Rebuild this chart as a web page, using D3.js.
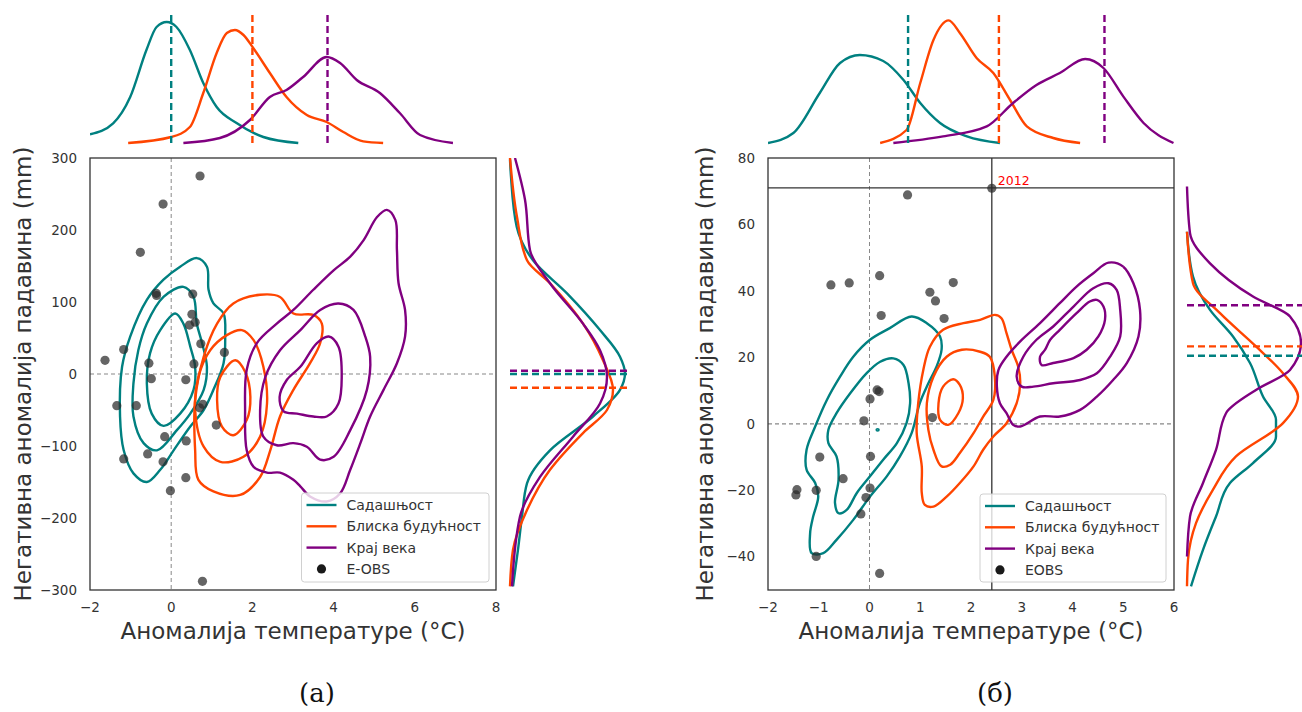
<!DOCTYPE html>
<html><head><meta charset="utf-8">
<script src="https://cdn.jsdelivr.net/npm/d3@7"></script>
<style>
html,body{margin:0;padding:0;background:#fff;}
svg{display:block;font-family:"DejaVu Sans",sans-serif;}
</style></head>
<body>
<svg id="chart" width="1302" height="712"></svg>
<script>
// ---------------- DATA ----------------
const seriesNames = ["Садашњост", "Блиска будућност", "Крај века"];
const seriesColors = ["#008080", "#ff4500", "#800080"];
const obsLabelA = "E-OBS";
const obsLabelB = "EOBS";
const panelLabels = ["(a)", "(б)"];
const xTitle = "Аномалија температуре (°C)";
const yTitle = "Негативна аномалија падавина (mm)";

const xDomainA = [-2, 8];
const yDomainA = [-300, 300];
const xTicksA = [-2, 0, 2, 4, 6, 8];
const yTicksA = [-300, -200, -100, 0, 100, 200, 300];
const xDomainB = [-2, 6];
const yDomainB = [-50, 80];
const xTicksB = [-2, -1, 0, 1, 2, 3, 4, 5, 6];
const yTicksB = [-40, -20, 0, 20, 40, 60, 80];

// KDE contour lines (outer, middle, inner) per period, panel (a)
const contTealA = [
 [[0.63,161],[0.88,149],[0.92,117],[1.04,98],[1.29,84],[1.33,52],[1.29,15],[1.04,-22],[0.80,-50],[0.47,-73],[0.06,-106],[-0.27,-133],[-0.60,-150],[-0.93,-138],[-1.17,-106],[-1.26,-59],[-1.21,10],[-1.01,52],[-0.60,103],[-0.19,131],[0.22,149]],
 [[0.30,121],[0.55,107],[0.63,70],[0.76,43],[0.88,10],[0.80,-22],[0.47,-55],[0.14,-78],[-0.35,-106],[-0.68,-96],[-0.93,-59],[-0.93,-13],[-0.81,33],[-0.60,70],[-0.19,107]],
 [[0.10,84],[0.30,70],[0.47,38],[0.59,10],[0.55,-22],[0.22,-55],[-0.19,-72],[-0.48,-55],[-0.60,-13],[-0.52,29],[-0.27,61]]
];
const contOrangeA = [
 [[2.19,110],[2.68,107],[3.01,84],[3.50,82],[3.71,70],[3.67,43],[3.42,15],[3.01,-22],[2.68,-59],[2.44,-106],[2.19,-143],[1.70,-168],[1.04,-163],[0.67,-147],[0.59,-106],[0.59,-36],[0.80,24],[1.13,70],[1.53,98]],
 [[1.74,61],[2.03,47],[2.27,10],[2.36,-41],[2.19,-87],[1.78,-115],[1.21,-122],[0.80,-101],[0.59,-50],[0.67,-4],[0.96,33],[1.37,54]],
 [[1.58,19],[1.82,3],[1.95,-32],[1.86,-64],[1.53,-85],[1.25,-73],[1.13,-36],[1.21,-4]]
];
const contPurpleA = [
 [[5.31,228],[5.52,214],[5.56,172],[5.60,126],[5.76,89],[5.76,52],[5.56,15],[5.23,-22],[4.90,-59],[4.66,-96],[4.41,-133],[4.16,-166],[3.83,-177],[3.42,-170],[3.18,-156],[3.01,-147],[2.68,-137],[2.36,-137],[2.03,-129],[1.86,-106],[1.82,-50],[1.86,6],[2.11,43],[2.60,70],[3.01,89],[3.50,117],[4.00,144],[4.41,163],[4.74,186],[5.07,218]],
 [[4.12,98],[4.49,89],[4.78,52],[4.90,24],[4.82,-22],[4.41,-78],[4.00,-115],[3.67,-119],[3.34,-101],[3.01,-96],[2.60,-99],[2.27,-87],[2.19,-50],[2.32,-4],[2.68,33],[3.18,61],[3.67,89]],
 [[3.88,52],[4.12,38],[4.20,-4],[4.12,-41],[3.83,-59],[3.50,-59],[3.10,-55],[2.77,-52],[2.67,-32],[2.85,-8],[3.18,10],[3.59,43]]
];
// panel (б)
const contTealB = [
 [[0.83,32.3],[1.13,30.3],[1.39,26.3],[1.42,22.3],[1.32,17.2],[1.16,12.2],[0.99,6.2],[0.83,-2.8],[0.60,-9.8],[0.34,-15.8],[0.01,-21.9],[-0.32,-28.9],[-0.65,-34.9],[-0.91,-38.9],[-1.14,-38.9],[-1.17,-32.9],[-1.11,-27.9],[-1.01,-21.9],[-1.07,-17.8],[-1.24,-13.8],[-1.24,-7.8],[-1.07,-0.8],[-0.84,7.2],[-0.58,14.2],[-0.32,20.2],[0.01,25.3],[0.40,28.8]],
 [[0.47,19.7],[0.67,17.7],[0.77,12.2],[0.80,6.2],[0.73,0.2],[0.54,-5.8],[0.27,-10.8],[0.01,-15.8],[-0.25,-20.8],[-0.45,-25.9],[-0.61,-26.9],[-0.68,-23.8],[-0.61,-16.8],[-0.65,-9.8],[-0.81,-5.8],[-0.81,-1.8],[-0.65,3.2],[-0.38,9.2],[-0.06,15.2],[0.21,18.7]],
 [[0.16,-1.6],[0.18,-1.8],[0.16,-2.0],[0.14,-1.8]]
];
const contOrangeB = [
 [[2.47,32.8],[2.60,31.8],[2.70,27.3],[2.80,22.3],[2.93,17.2],[2.97,12.2],[2.90,6.2],[2.70,0.2],[2.44,-3.8],[2.24,-7.8],[2.05,-12.8],[1.78,-17.8],[1.52,-21.9],[1.26,-24.9],[1.09,-24.4],[1.03,-20.8],[1.03,-12.8],[0.93,-2.8],[0.96,6.2],[1.06,16.2],[1.19,23.2],[1.45,28.3],[1.85,30.3],[2.18,31.3]],
 [[1.82,22.3],[2.18,21.7],[2.37,20.2],[2.47,14.2],[2.44,7.2],[2.24,2.2],[2.05,-2.8],[1.78,-8.8],[1.59,-12.3],[1.42,-12.8],[1.26,-7.8],[1.16,-1.8],[1.13,6.2],[1.26,14.2],[1.52,20.2]],
 [[1.65,13.4],[1.78,11.7],[1.84,7.7],[1.75,3.2],[1.55,-0.3],[1.39,1.2],[1.36,6.2],[1.45,11.2]]
];
const contPurpleB = [
 [[4.71,48.5],[5.00,47.3],[5.20,42.3],[5.33,34.3],[5.30,26.3],[5.07,18.3],[4.80,13.2],[4.48,8.2],[4.15,4.2],[3.75,2.2],[3.36,2.2],[2.97,-0.8],[2.83,-0.3],[2.70,3.2],[2.57,6.2],[2.51,11.2],[2.54,16.2],[2.70,20.2],[2.97,24.8],[3.36,30.3],[3.75,36.3],[4.08,41.3],[4.41,45.3]],
 [[4.71,42.3],[4.87,40.3],[4.94,34.3],[4.94,26.3],[4.74,20.2],[4.48,15.2],[4.15,13.2],[3.62,12.2],[3.23,11.2],[3.00,11.2],[2.90,14.2],[3.03,20.2],[3.29,25.3],[3.62,29.3],[4.02,35.3],[4.41,40.8]],
 [[4.48,37.3],[4.61,35.3],[4.64,31.3],[4.51,26.3],[4.28,22.3],[4.02,19.8],[3.62,18.3],[3.39,17.7],[3.36,20.2],[3.46,22.3],[3.56,25.3],[3.75,28.3],[4.08,33.3],[4.34,36.8]]
];

// observations
const obsXA = [0.71,-0.20,-0.76,-0.37,-0.36,0.53,0.51,0.59,0.45,0.73,1.31,-1.17,-1.63,-0.55,0.56,-0.49,0.36,-1.34,-0.86,0.70,0.78,1.11,-0.16,0.37,-1.17,-0.58,-0.20,0.36,-0.02,0.77];
const obsYA = [275,236,169,112,109,111,83,72,68,42,30,34,19,15,14,-6.5,-8,-44,-44,-47,-42,-71,-87,-93,-118,-111,-122,-144,-162,-288];
const obsXB = [2.41,0.75,-0.76,-0.40,0.20,1.65,1.19,1.30,0.23,1.47,0.15,0.19,0.01,-0.11,1.24,-0.98,0.02,-0.52,-1.43,-1.45,-1.05,0.01,-0.07,-0.17,-1.05,0.20];
const obsYB = [70.9,68.9,41.8,42.4,44.6,42.5,39.6,37.0,32.6,31.7,10.2,9.7,7.5,0.9,1.9,-10.0,-9.8,-16.5,-19.8,-21.4,-20.0,-19.3,-22.2,-27.1,-39.9,-45.0];
const highlightYear = "2012";
const highlightX = 2.41;
const highlightY = 71;

// period means (dashed lines)
const meanXA = [0.0, 2.0, 3.85];
const meanYA = [0, -19, 4.6];
const meanXB = [0.76, 2.55, 4.63];
const meanYB = [20.5, 23.3, 35.7];

// marginal densities (relative)
const topTealA = [[-2.0,0.087],[-1.43,0.197],[-1.01,0.46],[-0.61,0.93],[-0.36,1.16],[-0.11,1.21],[0.13,1.16],[0.46,0.93],[0.79,0.60],[1.12,0.36],[1.61,0.20],[2.27,0.06],[3.13,0]];
const topOrangeA = [[-1.06,0],[0.0,0.06],[0.46,0.16],[0.79,0.50],[1.12,0.90],[1.37,1.10],[1.57,1.13],[1.78,1.08],[2.02,0.95],[2.43,0.70],[2.84,0.46],[3.34,0.28],[3.83,0.21],[4.24,0.11],[4.73,0.016],[5.22,0]];
const topPurpleA = [[0.30,0],[1.20,0.05],[1.94,0.23],[2.43,0.46],[2.84,0.53],[3.25,0.66],[3.83,0.86],[4.16,0.80],[4.57,0.63],[5.14,0.50],[5.63,0.30],[6.13,0.08],[6.94,0]];
const topTealB = [[-2.0,0],[-1.5,0.10],[-0.98,0.50],[-0.58,0.80],[-0.19,0.88],[0.27,0.82],[0.67,0.63],[1.0,0.40],[1.39,0.20],[1.92,0.066],[2.57,0]];
const topOrangeB = [[0.21,0],[0.73,0.13],[1.0,0.60],[1.26,1.03],[1.56,1.226],[1.78,1.10],[2.11,0.85],[2.44,0.70],[2.77,0.43],[3.10,0.166],[3.62,0.05],[4.15,0]];
const topPurpleB = [[0.47,0],[1.45,0.066],[2.31,0.166],[2.83,0.40],[3.29,0.58],[3.75,0.70],[4.25,0.84],[4.61,0.75],[5.0,0.466],[5.40,0.20],[5.99,0]];
const rightTealA = [[298,0],[274,0.01],[204.6,0.067],[158,0.23],[112,0.57],[61,0.90],[24,1.10],[1,1.15],[-22,1.10],[-59,0.83],[-106,0.40],[-152,0.17],[-198,0.12],[-244,0.08],[-295,0.03]];
const rightOrangeA = [[300,0],[218,0.07],[158,0.17],[126,0.40],[70,0.73],[19,0.93],[-22,1.03],[-50,0.97],[-82,0.73],[-133,0.40],[-189,0.17],[-244,0.03],[-295,0]];
const rightPurpleA = [[300,0.05],[242,0.15],[172,0.20],[126,0.40],[70,0.73],[33,0.90],[-4,0.97],[-41,0.90],[-87,0.63],[-143,0.30],[-198,0.10],[-295,0.02]];
const rightTealB = [[57.8,0],[44.3,0.06],[34.3,0.23],[26.3,0.46],[18.3,0.63],[8.2,0.76],[1.2,0.89],[-3.8,0.89],[-11.8,0.66],[-17.8,0.43],[-27.9,0.29],[-37.9,0.16],[-48.9,0.04]];
const rightOrangeB = [[57.8,0],[42.3,0.06],[33.3,0.33],[23.3,0.69],[15.2,0.96],[8.2,1.11],[0.2,0.96],[-9.8,0.49],[-19.8,0.26],[-29.9,0.09],[-40.9,0.01],[-48.9,0]];
const rightPurpleB = [[71.4,0],[57.4,0.03],[48.3,0.23],[38.3,0.66],[32.3,1.03],[24.3,1.14],[16.2,1.03],[10.2,0.69],[3.2,0.39],[-7.8,0.29],[-17.8,0.16],[-27.9,0.03],[-39.9,0]];

// ---------------- DRAW ----------------
const svg = d3.select("#chart");
const fmt = v => (v < 0 ? "\u2212" + Math.abs(v) : String(v));
const LW = 2.4;

function drawPanel(p, idx) {
  const x = d3.scaleLinear().domain(p.xDomain).range([p.left, p.right]);
  const y = d3.scaleLinear().domain(p.yDomain).range([p.bottom, p.top]);
  const g = svg.append("g");
  const clipId = "clip" + idx;
  svg.append("clipPath").attr("id", clipId).append("rect")
    .attr("x", p.left).attr("y", p.top).attr("width", p.right - p.left).attr("height", p.bottom - p.top);

  const plot = g.append("g").attr("clip-path", `url(#${clipId})`);
  plot.append("line").attr("x1", x(0)).attr("x2", x(0)).attr("y1", p.top).attr("y2", p.bottom)
    .attr("stroke", "#888").attr("stroke-width", 1).attr("stroke-dasharray", "4,3");
  plot.append("line").attr("x1", p.left).attr("x2", p.right).attr("y1", y(0)).attr("y2", y(0))
    .attr("stroke", "#888").attr("stroke-width", 1.2).attr("stroke-dasharray", "4,3");

  if (p.highlight) {
    plot.append("line").attr("x1", x(p.highlight.x)).attr("x2", x(p.highlight.x)).attr("y1", p.top).attr("y2", p.bottom)
      .attr("stroke", "#333").attr("stroke-width", 1.3);
    plot.append("line").attr("x1", p.left).attr("x2", p.right).attr("y1", y(p.highlight.y)).attr("y2", y(p.highlight.y))
      .attr("stroke", "#333").attr("stroke-width", 1.3);
  }

  const cline = d3.line().x(d => x(d[0])).y(d => y(d[1])).curve(d3.curveCatmullRomClosed.alpha(0.5));
  p.contours.forEach((levels, s) => {
    levels.forEach(pts => {
      plot.append("path").attr("d", cline(pts)).attr("fill", "none")
        .attr("stroke", seriesColors[s]).attr("stroke-width", LW);
    });
  });

  plot.selectAll("circle.obs").data(d3.zip(p.obsX, p.obsY)).join("circle")
    .attr("class", "obs").attr("cx", d => x(d[0])).attr("cy", d => y(d[1])).attr("r", 4.6)
    .attr("fill", "#2a2a2a").attr("fill-opacity", 0.72);

  if (p.highlight) {
    g.append("text").attr("x", x(p.highlight.x) + 6).attr("y", y(p.highlight.y) - 3)
      .attr("fill", "#ff0000").attr("font-size", 12.5).text(p.highlight.label);
  }

  g.append("rect").attr("x", p.left).attr("y", p.top).attr("width", p.right - p.left).attr("height", p.bottom - p.top)
    .attr("fill", "none").attr("stroke", "#333").attr("stroke-width", 1.3);

  g.selectAll("text.xt").data(p.xTicks).join("text").attr("class", "xt")
    .attr("x", d => x(d)).attr("y", p.bottom + 22).attr("text-anchor", "middle")
    .attr("font-size", 13.5).attr("fill", "#333").text(fmt);
  g.selectAll("text.yt").data(p.yTicks).join("text").attr("class", "yt")
    .attr("x", p.left - 13).attr("y", d => y(d)).attr("dy", "0.35em").attr("text-anchor", "end")
    .attr("font-size", 13.5).attr("fill", "#333").text(fmt);

  g.append("text").attr("x", (p.left + p.right) / 2).attr("y", p.bottom + 49).attr("text-anchor", "middle")
    .attr("font-size", 23).attr("fill", "#333").text(xTitle);
  g.append("text").attr("transform", `translate(${p.ylabX},${(p.top + p.bottom) / 2}) rotate(-90)`)
    .attr("text-anchor", "middle").attr("dy", "0.35em").attr("font-size", 23).attr("fill", "#333").text(yTitle);

  g.append("text").attr("x", p.panelX).attr("y", 702).attr("text-anchor", "middle")
    .attr("font-family", "DejaVu Serif, serif").attr("font-size", 26).attr("fill", "#111").text(p.panelLabel);

  // top marginal
  const yt = d3.scaleLinear().domain([0, 1]).range([p.topBase, p.topBase - 100]);
  const tclip = "tclip" + idx;
  svg.append("clipPath").attr("id", tclip).append("rect")
    .attr("x", p.left).attr("y", 0).attr("width", p.right - p.left).attr("height", p.topBase + 3);
  const tg = g.append("g").attr("clip-path", `url(#${tclip})`);
  const tline = d3.line().x(d => x(d[0])).y(d => yt(d[1])).curve(d3.curveMonotoneX);
  p.topDens.forEach((pts, s) => {
    tg.append("path").attr("d", tline(pts)).attr("fill", "none").attr("stroke", seriesColors[s]).attr("stroke-width", LW);
  });
  p.meanX.forEach((m, s) => {
    tg.append("line").attr("x1", x(m)).attr("x2", x(m)).attr("y1", p.topDashTop).attr("y2", p.topBase)
      .attr("stroke", seriesColors[s]).attr("stroke-width", 2.4).attr("stroke-dasharray", "7,4");
  });

  // right marginal
  const xr = d3.scaleLinear().domain([0, 1]).range([p.rightBase, p.rightBase + 100]);
  const rclip = "rclip" + idx;
  svg.append("clipPath").attr("id", rclip).append("rect")
    .attr("x", p.rightBase - 3).attr("y", p.top).attr("width", 1302 - p.rightBase + 3).attr("height", p.bottom - p.top);
  const rg = g.append("g").attr("clip-path", `url(#${rclip})`);
  const rline = d3.line().x(d => xr(d[1])).y(d => y(d[0])).curve(d3.curveMonotoneY);
  p.rightDens.forEach((pts, s) => {
    rg.append("path").attr("d", rline(pts)).attr("fill", "none").attr("stroke", seriesColors[s]).attr("stroke-width", LW);
  });
  p.meanY.forEach((m, s) => {
    rg.append("line").attr("x1", p.rightBase).attr("x2", p.rightDashEnd).attr("y1", y(m)).attr("y2", y(m))
      .attr("stroke", seriesColors[s]).attr("stroke-width", 2.4).attr("stroke-dasharray", "7,4");
  });

  // legend
  const L = p.legend;
  g.append("rect").attr("x", L.x).attr("y", L.y).attr("width", L.w).attr("height", L.h).attr("rx", 3)
    .attr("fill", "#fff").attr("fill-opacity", 0.8).attr("stroke", "#d0d0d0").attr("stroke-width", 1);
  const labels = seriesNames.concat([p.obsLabel]);
  labels.forEach((lab, i) => {
    const ry = L.y + 12 + i * 21.3;
    if (i < 3) {
      g.append("line").attr("x1", L.x + 5).attr("x2", L.x + 35).attr("y1", ry).attr("y2", ry)
        .attr("stroke", seriesColors[i]).attr("stroke-width", LW);
    } else {
      g.append("circle").attr("cx", L.x + 20).attr("cy", ry).attr("r", 4.6).attr("fill", "#1a1a1a");
    }
    g.append("text").attr("x", L.x + 45).attr("y", ry).attr("dy", "0.35em").attr("font-size", 14)
      .attr("fill", "#333").text(lab);
  });
}

drawPanel({
  left: 90, right: 496, top: 158, bottom: 590,
  xDomain: xDomainA, yDomain: yDomainA, xTicks: xTicksA, yTicks: yTicksA,
  contours: [contTealA, contOrangeA, contPurpleA],
  obsX: obsXA, obsY: obsYA, obsLabel: obsLabelA,
  meanX: meanXA, meanY: meanYA,
  topDens: [topTealA, topOrangeA, topPurpleA],
  rightDens: [rightTealA, rightOrangeA, rightPurpleA],
  topBase: 143, topDashTop: 15, rightBase: 510, rightDashEnd: 628,
  ylabX: 23, panelX: 317, panelLabel: panelLabels[0],
  legend: {x: 301.5, y: 493, w: 187.5, h: 89}
}, 0);

drawPanel({
  left: 768, right: 1174, top: 158, bottom: 590,
  xDomain: xDomainB, yDomain: yDomainB, xTicks: xTicksB, yTicks: yTicksB,
  contours: [contTealB, contOrangeB, contPurpleB],
  obsX: obsXB, obsY: obsYB, obsLabel: obsLabelB,
  meanX: meanXB, meanY: meanYB,
  topDens: [topTealB, topOrangeB, topPurpleB],
  rightDens: [rightTealB, rightOrangeB, rightPurpleB],
  topBase: 143, topDashTop: 15, rightBase: 1187, rightDashEnd: 1302,
  ylabX: 705, panelX: 995, panelLabel: panelLabels[1],
  legend: {x: 980, y: 494, w: 186, h: 88},
  highlight: {x: highlightX, y: highlightY, label: highlightYear}
}, 1);
</script>
</body></html>
